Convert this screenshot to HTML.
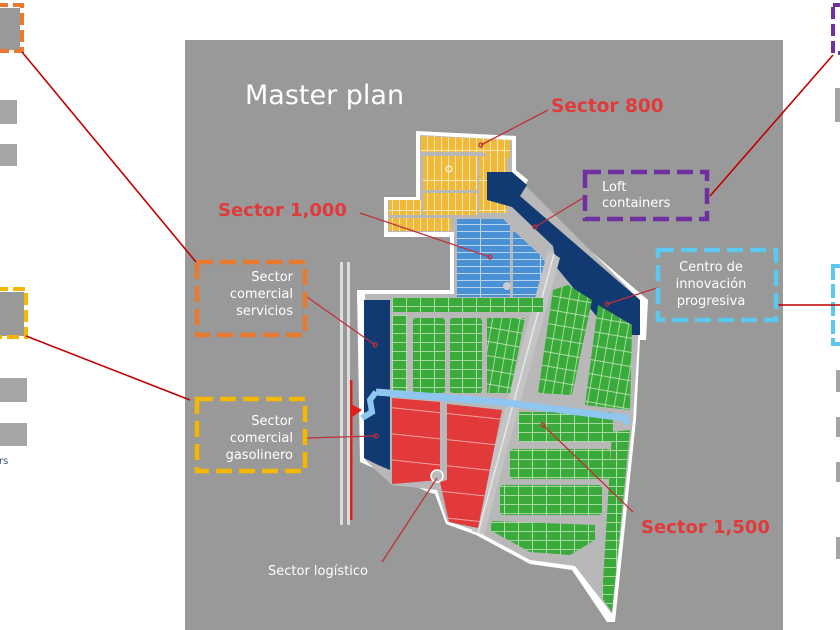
<!DOCTYPE html>
<html><head><meta charset="utf-8"><style>
html,body{margin:0;padding:0;background:#fff;width:840px;height:630px;overflow:hidden}
svg{display:block}
text{font-family:"DejaVu Sans","Liberation Sans",sans-serif}
</style></head><body>
<svg width="840" height="630" viewBox="0 0 840 630" xmlns="http://www.w3.org/2000/svg">
<defs>
<pattern id="gl" width="14" height="9" patternUnits="userSpaceOnUse"><rect width="14" height="9" fill="#3aaa3a"/><path d="M0 0.5H14M0.5 0V9" stroke="#c8e8c0" stroke-width="0.8"/></pattern>
<pattern id="gl2" width="14" height="9" patternUnits="userSpaceOnUse" patternTransform="rotate(-80)"><rect width="14" height="9" fill="#3aaa3a"/><path d="M0 0.5H14M0.5 0V9" stroke="#c8e8c0" stroke-width="0.8"/></pattern>
<pattern id="yl" width="7" height="30" patternUnits="userSpaceOnUse"><rect width="7" height="30" fill="#f0b93a"/><path d="M0.5 0V30M0 0.5H7" stroke="#fbe6b0" stroke-width="1"/></pattern>
<pattern id="bl" width="30" height="7" patternUnits="userSpaceOnUse"><rect width="30" height="7" fill="#4a90d4"/><path d="M0 0.5H30M0.5 0V7" stroke="#b8d4f0" stroke-width="1"/></pattern>
<pattern id="rl" width="60" height="26" patternUnits="userSpaceOnUse" patternTransform="rotate(6)"><rect width="60" height="26" fill="#e23a3a"/><path d="M0 0.5H60" stroke="#f4a0a0" stroke-width="1"/></pattern>
</defs>
<rect width="840" height="630" fill="#fff"/>
<rect x="185" y="40" width="598" height="590" fill="#999"/>

<rect x="0" y="8" width="20" height="42" fill="#999"/>
<rect x="-4" y="5" width="26" height="46" fill="none" stroke="#e87a2e" stroke-width="4" stroke-dasharray="12 5"/>
<rect x="0" y="100" width="17" height="24" fill="#a5a5a5"/>
<rect x="0" y="144" width="17" height="22" fill="#a5a5a5"/>
<rect x="0" y="292" width="24" height="44" fill="#999"/>
<rect x="-4" y="289" width="30" height="48" fill="none" stroke="#f5b800" stroke-width="4" stroke-dasharray="12 5"/>
<rect x="0" y="378" width="27" height="24" fill="#a5a5a5"/>
<rect x="0" y="423" width="27" height="23" fill="#a5a5a5"/>
<text x="-1" y="464" font-size="10" fill="#3a5a9a">rs</text>
<rect x="833" y="5" width="10" height="48" fill="none" stroke="#7030a0" stroke-width="4" stroke-dasharray="12 5"/>
<rect x="835" y="88" width="6" height="34" fill="#a5a5a5"/>
<rect x="833" y="266" width="10" height="78" fill="none" stroke="#5bc8f0" stroke-width="4" stroke-dasharray="14 4"/>
<rect x="836" y="370" width="5" height="22" fill="#a5a5a5"/>
<rect x="836" y="417" width="5" height="20" fill="#a5a5a5"/>
<rect x="836" y="462" width="5" height="20" fill="#a5a5a5"/>
<rect x="836" y="537" width="5" height="22" fill="#a5a5a5"/>

<text x="245" y="104" font-size="27" fill="#fff">Master plan</text>

<polygon points="416,131 516,136 516,170 528,180 522,192 648,300 646,340 640,340 636,420 615,622 607,622 572,570 530,564 476,535 446,524 435,494 428,492 360,462 357,290 450,290 450,237 384,237 384,197 416,197" fill="#fff"/>
<polygon points="420,135 512,140 512,172 640,300 638,340 633,420 612,614 575,566 530,560 476,531 447,521 437,490 392,485 365,460 365,294 454,294 454,232 388,232 388,200 420,200" fill="#b8b8b8"/>

<polygon points="421,136 510,140 510,158 496,160 482,152 421,152" fill="url(#yl)"/>
<rect x="423" y="156" width="54" height="34" fill="url(#yl)"/>
<rect x="423" y="193" width="54" height="22" fill="url(#yl)"/>
<rect x="479" y="156" width="28" height="57" fill="url(#yl)"/>
<rect x="389" y="200" width="32" height="15" fill="url(#yl)"/>
<rect x="389" y="218" width="62" height="13" fill="url(#yl)"/>
<circle cx="449" cy="169" r="3" fill="none" stroke="#fff"/>

<polygon points="487,172 512,172 527,185 520,196 640,300 640,335 612,335 557,268 553,246 512,207 487,200" fill="#123a72"/>

<polygon points="457,219 503,219 510,226 510,297 457,297" fill="url(#bl)"/>
<polygon points="513,230 540,255 545,262 545,297 513,297" fill="url(#bl)"/>
<circle cx="507" cy="286" r="4" fill="#ccc"/>

<polygon points="548,250 560,258 484,535 472,531" fill="#c4c4c4"/>
<line x1="554" y1="254" x2="478" y2="533" stroke="#e8e8e8" stroke-width="1.5"/>

<polygon points="364,300 390,300 390,470 378,465 364,458" fill="#123a72"/>

<rect x="392" y="298" width="151" height="14" fill="url(#gl)"/>
<rect x="392" y="315" width="15" height="78" fill="url(#gl)"/>
<rect x="413" y="318" width="32" height="75" fill="url(#gl)" rx="3"/>
<rect x="450" y="318" width="32" height="75" fill="url(#gl)" rx="3"/>
<polygon points="487,318 525,318 510,393 487,393" fill="url(#gl2)"/>
<polygon points="553,290 568,285 592,300 572,395 538,393" fill="url(#gl2)"/>
<polygon points="598,305 632,325 630,410 585,405" fill="url(#gl2)"/>
<rect x="518" y="412" width="95" height="30" fill="url(#gl)" rx="3"/>
<rect x="510" y="449" width="100" height="30" fill="url(#gl)" rx="3"/>
<rect x="500" y="485" width="102" height="30" fill="url(#gl)" rx="3"/>
<polygon points="492,521 595,525 595,540 570,555 530,552 490,530" fill="url(#gl)"/>
<polygon points="612,432 630,430 612,612 602,598" fill="url(#gl)"/>

<polygon points="392,398 440,402 440,480 392,484" fill="url(#rl)"/>
<polygon points="447,404 502,410 478,528 449,522 440,482 447,480" fill="url(#rl)"/>
<circle cx="437" cy="476" r="6" fill="#bbb" stroke="#fff" stroke-width="1.5"/>

<path d="M376 392 L500 402 L625 418 L628 424" stroke="#8ec6f0" stroke-width="7" fill="none"/>
<path d="M376 392 L370 400 L372 412 L362 418" stroke="#8ec6f0" stroke-width="6" fill="none"/>

<rect x="340" y="262" width="3" height="263" fill="#ddd"/>
<rect x="347" y="262" width="3" height="263" fill="#ddd"/>
<rect x="350" y="380" width="2.5" height="140" fill="#e0201f"/>
<polygon points="351,404 362,410 351,418" fill="#e0201f"/>

<g stroke="#c0303a" stroke-width="1.3" fill="none">
<line x1="548" y1="110" x2="481" y2="145"/>
<line x1="360" y1="213" x2="490" y2="257"/>
<line x1="583" y1="198" x2="535" y2="227"/>
<line x1="657" y1="288" x2="607" y2="304"/>
<line x1="307" y1="297" x2="375" y2="345"/>
<line x1="307" y1="438" x2="376" y2="436"/>
<line x1="633" y1="512" x2="543" y2="425"/>
<line x1="382" y1="562" x2="437" y2="478"/>
</g>
<g stroke="#c00000" stroke-width="1.6" fill="none">
<line x1="22" y1="52" x2="196" y2="262"/>
<line x1="26" y1="336" x2="190" y2="400"/>
<line x1="710" y1="196" x2="833" y2="55"/>
<line x1="778" y1="305" x2="840" y2="305"/>
</g>
<g fill="none" stroke="#c0303a" stroke-width="1.2">
<circle cx="481" cy="145" r="2"/><circle cx="490" cy="257" r="2"/><circle cx="535" cy="227" r="2"/><circle cx="607" cy="304" r="2"/><circle cx="375" cy="345" r="2"/><circle cx="376" cy="436" r="2"/><circle cx="543" cy="425" r="2"/>
</g>

<text x="551" y="112" font-size="18.5" font-weight="bold" fill="#e03a3a">Sector 800</text>
<text x="218" y="216" font-size="18" font-weight="bold" fill="#e03a3a">Sector 1,000</text>
<text x="641" y="533" font-size="18" font-weight="bold" fill="#e03a3a">Sector 1,500</text>
<text x="268" y="575" font-size="13" fill="#fff">Sector logístico</text>

<rect x="585" y="172" width="122" height="47" fill="none" stroke="#7030a0" stroke-width="4.5" stroke-dasharray="16 7"/>
<text x="602" y="191" font-size="13" fill="#fff">Loft</text>
<text x="602" y="207" font-size="13" fill="#fff">containers</text>

<rect x="658" y="250" width="118" height="70" fill="none" stroke="#5bc8f0" stroke-width="4.5" stroke-dasharray="16 7"/>
<g font-size="13" fill="#fff" text-anchor="middle">
<text x="711" y="271">Centro de</text>
<text x="711" y="288">innovación</text>
<text x="711" y="305">progresiva</text>
</g>

<rect x="197" y="262" width="108" height="73" fill="none" stroke="#e87a2e" stroke-width="4.5" stroke-dasharray="16 7"/>
<g font-size="13" fill="#fff" text-anchor="end">
<text x="293" y="281">Sector</text>
<text x="293" y="298">comercial</text>
<text x="293" y="315">servicios</text>
</g>
<rect x="197" y="399" width="108" height="72" fill="none" stroke="#f5b800" stroke-width="4.5" stroke-dasharray="16 7"/>
<g font-size="13" fill="#fff" text-anchor="end">
<text x="293" y="425">Sector</text>
<text x="293" y="442">comercial</text>
<text x="293" y="459">gasolinero</text>
</g>
</svg>
</body></html>
